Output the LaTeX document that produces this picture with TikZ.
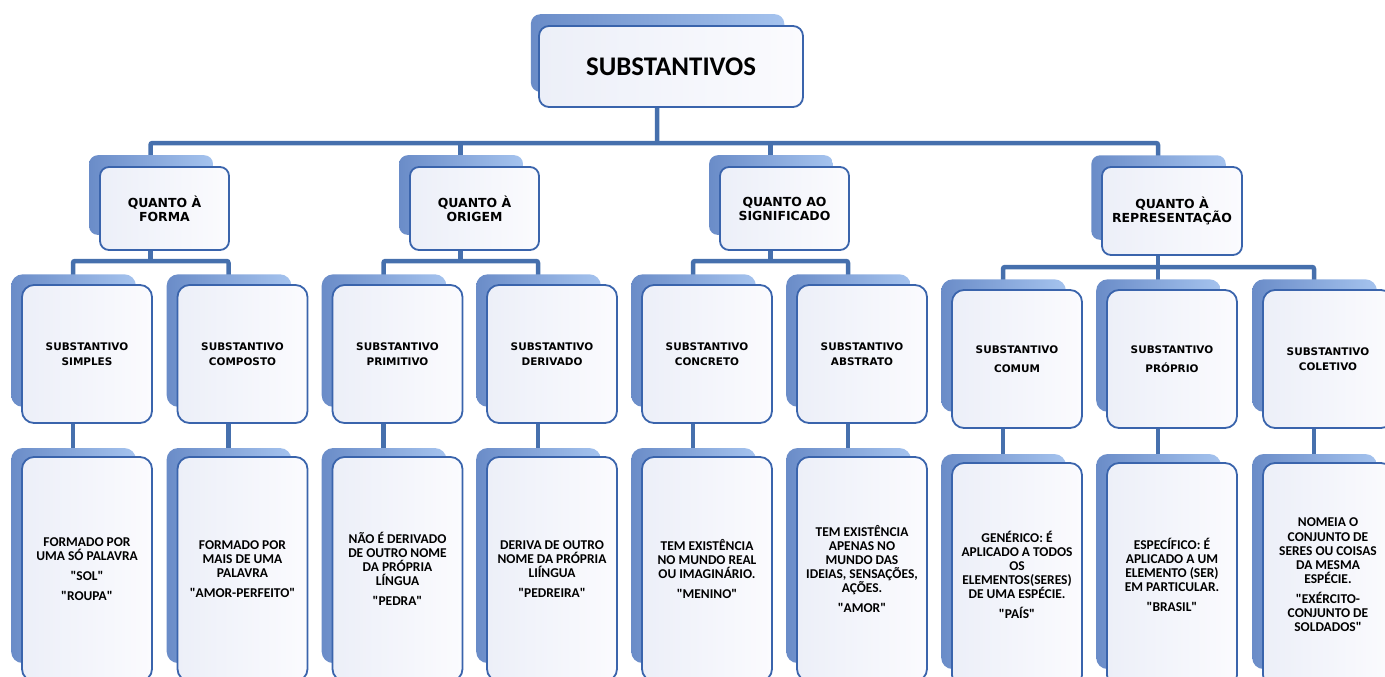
\documentclass[tikz,border=0pt]{standalone}
\usepackage{fontspec}
\setmainfont{Carlito}[Ligatures=TeXOff]
\newfontfamily\dejavu{DejaVu Sans}
\usetikzlibrary{shadows,backgrounds}
\definecolor{linecol}{RGB}{70,112,173}
\definecolor{bordcol}{RGB}{58,100,172}
\definecolor{fillleft}{RGB}{236,239,248}
\definecolor{fillright}{RGB}{251,251,254}
\definecolor{shadleft}{RGB}{106,140,200}
\definecolor{shadright}{RGB}{165,195,238}
\begin{document}
\begin{tikzpicture}[x=1bp,y=-1bp,line join=round,
  box/.style={draw=bordcol,line width=1.8bp,left color=fillleft,right color=fillright,
    align=center,inner sep=2bp,
    general shadow={shadow xshift=-14bp,shadow yshift=14bp,shadow scale=0.96,
      left color=shadleft,right color=shadright}},
  topbox/.style={box,rounded corners=10bp,minimum width=264bp,minimum height=81bp,
    font=\bfseries\fontsize{27}{30}\selectfont},
  quanto/.style={box,rounded corners=9bp,minimum width=129bp,minimum height=83bp,
    font=\dejavu\bfseries\fontsize{12.5}{14}\selectfont},
  tipo/.style={box,rounded corners=12bp,minimum width=130bp,minimum height=138bp,
    font=\dejavu\bfseries\fontsize{10.5}{14.5}\selectfont},
  texto/.style={box,rounded corners=12bp,minimum width=130bp,minimum height=224bp,
    font=\bfseries\fontsize{13.5}{14.2}\selectfont},
  conn/.style={draw=linecol,line width=4.5bp,rounded corners=2bp},
]
\useasboundingbox (0,0) rectangle (1385,677);
%%
  \node (root) at (671,66.5) [topbox] {SUBSTANTIVOS};
%
  \node (forma) at (164.5,208.5) [quanto] {QUANTO À\\FORMA};
  \node (origem) at (474.5,208.5) [quanto] {QUANTO À\\ORIGEM};
  \node (signif) at (784.5,208.5) [quanto] {QUANTO AO\\SIGNIFICADO};
  \node (repres) at (1172,211) [quanto,minimum width=140bp,minimum height=88bp] {QUANTO À\\REPRESENTAÇÃO};
%
  \node (simples) at (87,354) [tipo] {SUBSTANTIVO\\SIMPLES};
  \node (composto) at (242.5,354) [tipo] {SUBSTANTIVO\\COMPOSTO};
  \node (primitivo) at (397.5,354) [tipo] {SUBSTANTIVO\\PRIMITIVO};
  \node (derivado) at (552,354) [tipo] {SUBSTANTIVO\\DERIVADO};
  \node (concreto) at (707,354) [tipo] {SUBSTANTIVO\\CONCRETO};
  \node (abstrato) at (862,354) [tipo] {SUBSTANTIVO\\ABSTRATO};
  \node (comum) at (1017,359) [tipo] {SUBSTANTIVO\\[5bp]COMUM};
  \node (proprio) at (1172,359) [tipo] {SUBSTANTIVO\\[5bp]PRÓPRIO};
  \node (coletivo) at (1328,359) [tipo] {SUBSTANTIVO\\COLETIVO};
%
  \node (dsimples) at (87,569) [texto] {FORMADO POR\\UMA SÓ PALAVRA\\[6bp]"SOL"\\[6bp]"ROUPA"};
  \node (dcomposto) at (242.5,569) [texto] {FORMADO POR\\MAIS DE UMA\\PALAVRA\\[6bp]"AMOR-PERFEITO"};
  \node (dprimitivo) at (397.5,569) [texto] {NÃO É DERIVADO\\DE OUTRO NOME\\DA PRÓPRIA\\LÍNGUA\\[6bp]"PEDRA"};
  \node (dderivado) at (552,569) [texto] {DERIVA DE OUTRO\\NOME DA PRÓPRIA\\LIÍNGUA\\[6bp]"PEDREIRA"};
  \node (dconcreto) at (707,569) [texto] {TEM EXISTÊNCIA\\NO MUNDO REAL\\OU IMAGINÁRIO.\\[6bp]"MENINO"};
  \node (dabstrato) at (862,569) [texto] {TEM EXISTÊNCIA\\APENAS NO\\MUNDO DAS\\IDEIAS, SENSAÇÕES,\\AÇÕES.\\[6bp]"AMOR"};
  \node (dcomum) at (1017,575) [texto] {GENÉRICO: É\\APLICADO A TODOS\\OS\\ELEMENTOS(SERES)\\DE UMA ESPÉCIE.\\[6bp]"PAÍS"};
  \node (dproprio) at (1172,575) [texto] {ESPECÍFICO: É\\APLICADO A UM\\ELEMENTO (SER)\\EM PARTICULAR.\\[6bp]"BRASIL"};
  \node (dcoletivo) at (1328,575) [texto] {NOMEIA O\\CONJUNTO DE\\SERES OU COISAS\\DA MESMA\\ESPÉCIE.\\[6bp]"EXÉRCITO-\\CONJUNTO DE\\SOLDADOS"};
%
\begin{scope}[on background layer]
  \coordinate (bar0) at (657,143);
  \coordinate (bar1) at (0,261);
  \coordinate (bar4) at (0,267);
  \draw[conn] ([xshift=-14bp]root.south) -- (bar0);
  \draw[conn] ([xshift=-14bp]forma.north) |- (bar0) -| ([xshift=-14bp]repres.north);
  \draw[conn] ([xshift=-14bp]origem.north) -- ([xshift=-14bp]origem.north |- bar0);
  \draw[conn] ([xshift=-14bp]signif.north) -- ([xshift=-14bp]signif.north |- bar0);
  % second level
  \draw[conn] ([xshift=-14bp]forma.south) -- ([xshift=-14bp]forma.south |- bar1);
  \draw[conn] ([xshift=-14bp]simples.north) |- ([xshift=-14bp]forma.south |- bar1) -| ([xshift=-14bp]composto.north);
  \draw[conn] ([xshift=-14bp]origem.south) -- ([xshift=-14bp]origem.south |- bar1);
  \draw[conn] ([xshift=-14bp]primitivo.north) |- ([xshift=-14bp]origem.south |- bar1) -| ([xshift=-14bp]derivado.north);
  \draw[conn] ([xshift=-14bp]signif.south) -- ([xshift=-14bp]signif.south |- bar1);
  \draw[conn] ([xshift=-14bp]concreto.north) |- ([xshift=-14bp]signif.south |- bar1) -| ([xshift=-14bp]abstrato.north);
  \draw[conn] ([xshift=-14bp]repres.south) -- ([xshift=-14bp]repres.south |- bar4);
  \draw[conn] ([xshift=-14bp]comum.north) |- ([xshift=-14bp]repres.south |- bar4) -| ([xshift=-14bp]coletivo.north);
  \draw[conn] ([xshift=-14bp]proprio.north) -- ([xshift=-14bp]proprio.north |- bar4);
  % third level
  \draw[conn] ([xshift=-14bp]simples.south) -- ([xshift=-14bp]dsimples.north);
  \draw[conn] ([xshift=-14bp]composto.south) -- ([xshift=-14bp]dcomposto.north);
  \draw[conn] ([xshift=-14bp]primitivo.south) -- ([xshift=-14bp]dprimitivo.north);
  \draw[conn] ([xshift=-14bp]derivado.south) -- ([xshift=-14bp]dderivado.north);
  \draw[conn] ([xshift=-14bp]concreto.south) -- ([xshift=-14bp]dconcreto.north);
  \draw[conn] ([xshift=-14bp]abstrato.south) -- ([xshift=-14bp]dabstrato.north);
  \draw[conn] ([xshift=-14bp]comum.south) -- ([xshift=-14bp]dcomum.north);
  \draw[conn] ([xshift=-14bp]proprio.south) -- ([xshift=-14bp]dproprio.north);
  \draw[conn] ([xshift=-14bp]coletivo.south) -- ([xshift=-14bp]dcoletivo.north);
\end{scope}
%
\end{tikzpicture}
\end{document}
